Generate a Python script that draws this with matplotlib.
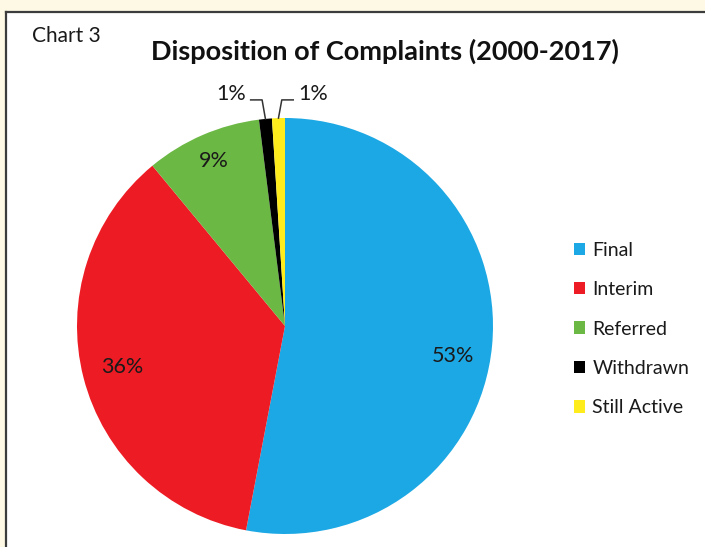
# Pie chart: Disposition of Complaints (2000-2017)
import numpy as np
import matplotlib
matplotlib.use("Agg")
import matplotlib.pyplot as plt
from matplotlib.lines import Line2D
from matplotlib.patches import Rectangle

categories = ["Final", "Interim", "Referred", "Withdrawn", "Still Active"]
shares = [53, 36, 9, 1, 1]
colors = ["#1ca8e4", "#ed1c24", "#6cb844", "#000000", "#ffec1c"]

plt.rcParams["font.family"] = ["Lato", "DejaVu Sans"]

W, H = 705, 547
fig = plt.figure(figsize=(W / 100, H / 100), dpi=100)
fig.patch.set_facecolor("#fdf9e5")

# white panel with dark border on left and top
fig.patches.append(Rectangle((6 / W, 0), 1 - 6 / W, (H - 12) / H, transform=fig.transFigure,
                             facecolor="white", edgecolor="none", zorder=0))
fig.add_artist(Line2D([6 / W, 6 / W], [0, (H - 12) / H], color="#3c3c3c", lw=1.6, zorder=1))
fig.add_artist(Line2D([6 / W, 1], [(H - 12) / H, (H - 12) / H], color="#3c3c3c", lw=1.6, zorder=1))

# pie axes: center (285, 326) px, radius 208 px
cx, cy, r = 285, 326, 208
ax = fig.add_axes([(cx - r) / W, (H - cy - r) / H, 2 * r / W, 2 * r / H])
ax.set_zorder(3)
ax.patch.set_visible(False)
wedges, _ = ax.pie(shares, colors=colors, startangle=90, counterclock=False, radius=1,
                   wedgeprops=dict(linewidth=0))
ax.set_xlim(-1, 1)
ax.set_ylim(-1, 1)
ax.axis("off")

txt_color = "#1a1a1a"

# percentage labels inside the big slices
dist = {"Final": 0.81, "Interim": 0.79, "Referred": 0.86}
shift = {"Final": -0.07, "Interim": 0.0, "Referred": 0.005}
for w, cat, val in zip(wedges, categories, shares):
    ang = np.deg2rad((w.theta1 + w.theta2) / 2)
    if cat in dist:
        ax.text(dist[cat] * np.cos(ang) - (0.015 if cat == "Interim" else 0),
                dist[cat] * np.sin(ang) + shift[cat], f"{val}%",
                ha="center", va="center", fontsize=15.5, color=txt_color)

# small slices: labels outside with leader lines
for w, val, side in zip(wedges[3:], shares[3:], [-1, 1]):
    ang = np.deg2rad((w.theta1 + w.theta2) / 2)
    x0, y0 = np.cos(ang), np.sin(ang)
    ly = 1.087
    x1 = x0 + side * 0.016
    x2 = x1 + side * 0.055
    ax.plot([x0, x1, x2], [y0, ly, ly], color="#333333", lw=1.1, clip_on=False)
    ax.text(x2 + side * 0.024, ly + 0.03, f"{val}%", ha="left" if side > 0 else "right",
            va="center", fontsize=15.5, color=txt_color, clip_on=False)

fig.text(32 / W, 1 - 36 / H, "Chart 3", ha="left", va="center", fontsize=15, color=txt_color)
fig.text(385 / W, 1 - 51 / H, "Disposition of Complaints (2000-2017)", ha="center", va="center",
         fontsize=19.5, fontweight="bold", color="#111111")

leg = fig.legend(wedges, categories, loc="center left", bbox_to_anchor=(566 / W, 1 - 329 / H),
                 frameon=False, fontsize=14, handlelength=0.6, handleheight=0.6,
                 handletextpad=0.35, labelspacing=1.15, borderaxespad=0)
for t in leg.get_texts():
    t.set_color(txt_color)
leg.set_zorder(3)

fig.savefig("out.png", dpi=100, facecolor=fig.get_facecolor())
